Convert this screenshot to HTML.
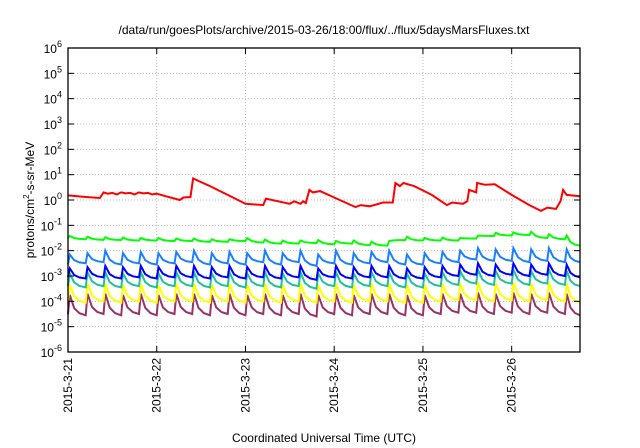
<!DOCTYPE html>
<html><head><meta charset="utf-8"><style>
body{margin:0;background:#fff}
svg{display:block;font-family:"Liberation Sans",sans-serif}
</style></head><body>
<svg id="chart" width="640" height="448" viewBox="0 0 640 448" xmlns="http://www.w3.org/2000/svg">
<rect width="640" height="448" fill="#fff"/>
<text x="324" y="34" font-size="12" text-anchor="middle">/data/run/goesPlots/archive/2015-03-26/18:00/flux/../flux/5daysMarsFluxes.txt</text>
<text x="324" y="442" font-size="12" text-anchor="middle">Coordinated Universal Time (UTC)</text>
<text transform="translate(34,200) rotate(-90)" font-size="12" text-anchor="middle">protons/cm<tspan dy="-5" font-size="8">2</tspan><tspan dy="5">-s-sr-MeV</tspan></text>
<g id="grid"></g><g id="series"></g><g id="axes"></g>
</svg>
<script>
const xTickLabels=["2015-3-21","2015-3-22","2015-3-23","2015-3-24","2015-3-25","2015-3-26"];
const yTickExps=[-6,-5,-4,-3,-2,-1,0,1,2,3,4,5,6];
const xMax=5.77;
const redT=[0,0.2,0.36,0.4,0.45,0.5,0.55,0.6,0.65,0.7,0.75,0.8,0.85,0.9,0.95,1.0,1.1,1.26,1.3,1.38,1.41,1.6,1.8,2.0,2.2,2.23,2.5,2.55,2.62,2.65,2.68,2.72,2.76,2.84,3.0,3.24,3.3,3.4,3.55,3.66,3.69,3.74,3.78,3.9,4.1,4.27,4.33,4.45,4.5,4.52,4.6,4.61,4.7,4.81,5.0,5.2,5.33,5.4,5.5,5.55,5.58,5.62,5.77];
const redV=[0.18,0.12,0.08,0.3,0.25,0.28,0.22,0.3,0.26,0.28,0.22,0.3,0.26,0.28,0.22,0.25,0.15,0.0,0.1,0.12,0.85,0.55,0.2,-0.15,-0.2,0.05,-0.15,-0.05,-0.15,-0.05,-0.12,0.4,0.3,0.35,0.1,-0.28,-0.2,-0.25,-0.1,-0.1,0.67,0.55,0.67,0.55,0.2,-0.2,-0.1,-0.15,-0.05,0.4,0.3,0.67,0.6,0.62,0.2,-0.2,-0.43,-0.3,-0.35,-0.05,0.4,0.2,0.15];
const toothT=[0.0,0.2,0.4,0.6,0.8,1.0,1.2,1.4,1.6,1.8,2.0,2.2,2.4,2.6,2.8,3.0,3.2,3.4,3.6,3.8,4.0,4.2,4.4,4.6,4.8,5.0,5.2,5.4,5.6];
const greenPeak=[-1.42,-1.45,-1.47,-1.48,-1.5,-1.5,-1.52,-1.52,-1.55,-1.55,-1.5,-1.56,-1.6,-1.6,-1.58,-1.62,-1.6,-1.65,-1.62,-1.45,-1.5,-1.48,-1.5,-1.4,-1.3,-1.28,-1.25,-1.35,-1.4];
const greenTrough=[-1.5,-1.55,-1.57,-1.58,-1.6,-1.6,-1.62,-1.62,-1.65,-1.65,-1.62,-1.68,-1.72,-1.72,-1.7,-1.75,-1.72,-1.78,-1.8,-1.58,-1.6,-1.6,-1.6,-1.52,-1.42,-1.4,-1.38,-1.5,-1.55,-1.8];
const lblueV=[-2.15,-2.1,-2.0,-2.1,-2.05,-2.1,-2.05,-2.0,-2.1,-2.05,-2.1,-2.0,-2.1,-2.0,-2.15,-2.0,-2.1,-2.05,-2.0,-2.15,-2.1,-2.05,-2.0,-1.9,-1.95,-1.9,-1.95,-1.9,-1.95];
const lblueTrough=[-2.55,-2.5,-2.45,-2.55,-2.5,-2.55,-2.5,-2.45,-2.55,-2.5,-2.55,-2.45,-2.55,-2.45,-2.6,-2.5,-2.55,-2.5,-2.45,-2.55,-2.55,-2.5,-2.45,-2.35,-2.4,-2.4,-2.45,-2.4,-2.45,-2.45];
const blueV=[-2.7,-2.65,-2.6,-2.65,-2.6,-2.65,-2.6,-2.6,-2.65,-2.6,-2.65,-2.6,-2.65,-2.6,-2.7,-2.6,-2.65,-2.6,-2.6,-2.7,-2.65,-2.6,-2.55,-2.5,-2.55,-2.5,-2.55,-2.5,-2.55];
const blueTrough=[-3.05,-3.1,-3.05,-3.1,-3.05,-3.1,-3.05,-3.05,-3.1,-3.05,-3.1,-3.05,-3.1,-3.05,-3.15,-3.05,-3.1,-3.05,-3.05,-3.1,-3.1,-3.05,-3.0,-2.95,-3.0,-2.95,-3.0,-2.95,-3.0,-3.05];
const tealV=[-2.9,-2.85,-2.85,-2.9,-2.85,-2.9,-2.85,-2.85,-2.9,-2.85,-2.9,-2.85,-2.9,-2.85,-2.9,-2.85,-2.9,-2.85,-2.85,-2.9,-2.9,-2.85,-2.8,-2.75,-2.8,-2.75,-2.8,-2.75,-2.8];
const tealTrough=[-3.4,-3.45,-3.4,-3.45,-3.4,-3.45,-3.4,-3.4,-3.45,-3.4,-3.45,-3.4,-3.45,-3.4,-3.5,-3.4,-3.45,-3.4,-3.4,-3.45,-3.45,-3.4,-3.35,-3.3,-3.35,-3.3,-3.35,-3.3,-3.35,-3.4];
const yellowV=[-3.35,-3.3,-3.3,-3.35,-3.3,-3.35,-3.3,-3.3,-3.35,-3.3,-3.35,-3.3,-3.35,-3.3,-3.35,-3.3,-3.35,-3.3,-3.3,-3.35,-3.35,-3.3,-3.3,-3.25,-3.3,-3.25,-3.3,-3.25,-3.3];
const yellowTrough=[-4.0,-4.05,-4.0,-4.05,-4.0,-4.05,-4.0,-4.0,-4.05,-4.0,-4.05,-4.0,-4.05,-4.0,-4.05,-4.0,-4.05,-4.0,-4.0,-4.05,-4.05,-4.0,-3.95,-3.95,-4.0,-3.95,-4.0,-3.95,-4.0,-4.05];
const purpleV=[-3.75,-3.7,-3.7,-3.75,-3.7,-3.75,-3.7,-3.7,-3.75,-3.7,-3.75,-3.7,-3.75,-3.7,-3.75,-3.7,-3.75,-3.7,-3.7,-3.75,-3.75,-3.7,-3.7,-3.65,-3.7,-3.65,-3.7,-3.65,-3.7];
const purpleTrough=[-4.5,-4.55,-4.5,-4.55,-4.5,-4.55,-4.5,-4.5,-4.55,-4.5,-4.55,-4.5,-4.55,-4.5,-4.6,-4.5,-4.55,-4.5,-4.5,-4.55,-4.55,-4.5,-4.45,-4.45,-4.5,-4.45,-4.5,-4.45,-4.5,-4.55];

const L=68,R=580,T=48,B=352;
const xs=d=>L+(R-L)*d/xMax;
const ys=e=>B-(B-T)*(e+6)/12;
const NS="http://www.w3.org/2000/svg";
function mk(tag,attrs,parent){const el=document.createElementNS(NS,tag);for(const k in attrs)el.setAttribute(k,attrs[k]);parent.appendChild(el);return el;}
const grid=document.getElementById('grid'),axes=document.getElementById('axes'),ser=document.getElementById('series');
yTickExps.forEach(e=>{
  const y=ys(e);
  if(e>-6&&e<6){const g=mk('line',{x1:L,x2:R,y1:y,y2:y,stroke:'#bbb','stroke-dasharray':'1,2','stroke-width':1},grid);
  
  }
  const t=mk('text',{x:L-6,y:y+5,'font-size':12,'text-anchor':'end'},axes);
  
  
  t.innerHTML='10<tspan dy="-6" font-size="9">'+e+'</tspan>';
  mk('line',{x1:L,x2:L+6,y1:y,y2:y,stroke:'#000'},axes);
  mk('line',{x1:R,x2:R-6,y1:y,y2:y,stroke:'#000'},axes);
});
xTickLabels.forEach((lab,i)=>{
  const x=xs(i);
  if(i>0){const g=mk('line',{x1:x,x2:x,y1:T,y2:B,stroke:'#bbb','stroke-dasharray':'1,2'},grid);
  
  }
  mk('line',{x1:x,x2:x,y1:B,y2:B-6,stroke:'#000'},axes);
  mk('line',{x1:x,x2:x,y1:T,y2:T+6,stroke:'#000'},axes);
  const t=mk('text',{transform:`translate(${x+4},${B+6}) rotate(-90)`,'font-size':12,'text-anchor':'end'},axes);
  
  
  t.textContent=lab;
});
const fr=mk('rect',{x:L,y:T,width:R-L,height:B-T,fill:'none',stroke:'#000','stroke-width':1.3},axes);


function line(pts,color,name){
  const p=mk('polyline',{points:pts.map(q=>xs(q[0]).toFixed(1)+','+ys(q[1]).toFixed(1)).join(' '),fill:'none',stroke:color,'stroke-width':2,'stroke-linejoin':'miter'},ser);
  
  
}
function teeth(peaks,troughs){
  const pts=[];
  toothT.forEach((t,i)=>{
    const next=(i+1<toothT.length)?toothT[i+1]:xMax;
    const lo=troughs[i+1],hi=peaks[i];
    pts.push([t,troughs[i]]);
    pts.push([t+0.02,hi]);
    pts.push([t+0.02+(next-t)*0.25,lo+(hi-lo)*0.35]);
    pts.push([t+0.02+(next-t)*0.55,lo+(hi-lo)*0.1]);
  });
  pts.push([xMax,troughs[toothT.length]]);
  return pts;
}
line(teeth(purpleV,purpleTrough),'#993366','series-purple');
line(teeth(yellowV,yellowTrough),'#ffff00','series-yellow');
line(teeth(tealV,tealTrough),'#20c0a0','series-teal');
line(teeth(blueV,blueTrough),'#0000ff','series-blue');
line(teeth(lblueV,lblueTrough),'#1a80ff','series-light-blue');
line(teeth(greenPeak,greenTrough),'#00ff00','series-green');
line(redT.map((t,i)=>[t,redV[i]]),'#ff0000','series-red');
</script>
</body></html>
